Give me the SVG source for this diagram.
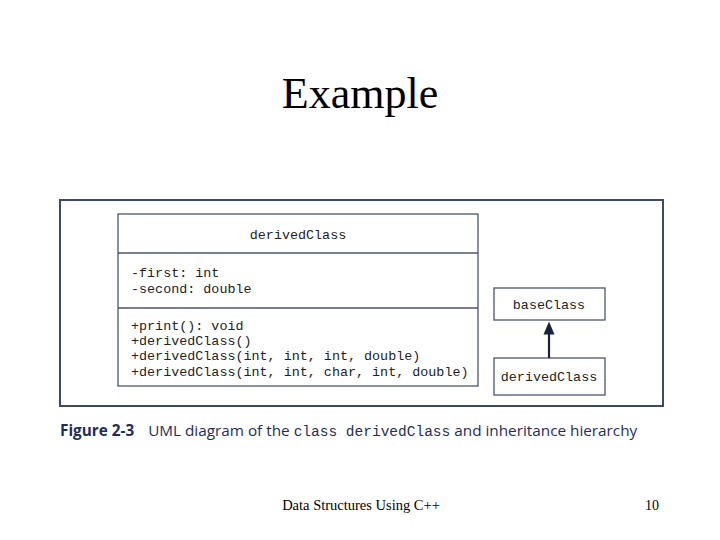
<svg xmlns="http://www.w3.org/2000/svg" width="720" height="540" viewBox="0 0 720 540">
<style>
.m{font-family:"Liberation Mono",monospace;font-size:13.4px;fill:#222}
.b{fill:#fff;stroke:#4a5570;stroke-width:1.3}
.s{font-family:"Liberation Serif",serif;fill:#000}
.c{font-family:"Open Sans","Liberation Sans",sans-serif;font-size:15.3px;fill:#1f2d5a}
</style>
<defs><marker id="ah" markerWidth="6" markerHeight="6" refX="3" refY="3" orient="auto"><path d="M0,0.5 L6,3 L0,5.5 z" fill="#1a2040"/></marker></defs>
<rect width="720" height="540" fill="#fff"/>
<text class="s" x="360" y="108" font-size="44" text-anchor="middle">Example</text>
<rect x="60" y="200" width="603" height="206" fill="#fff" stroke="#3a4a6a" stroke-width="2"/>
<g id="derivedClassMain">
<rect class="b" x="118" y="214" width="360" height="172"/>
<line x1="118" y1="253" x2="478" y2="253" stroke="#4a5570" stroke-width="1.3"/>
<line x1="118" y1="308" x2="478" y2="308" stroke="#4a5570" stroke-width="1.3"/>
<text class="m" x="298" y="239" text-anchor="middle">derivedClass</text>
<text class="m" x="131" y="277">-first: int</text>
<text class="m" x="131" y="293">-second: double</text>
<text class="m" x="131" y="330">+print(): void</text>
<text class="m" x="131" y="345">+derivedClass()</text>
<text class="m" x="131" y="360">+derivedClass(int, int, int, double)</text>
<text class="m" x="131" y="376">+derivedClass(int, int, char, int, double)</text>
</g>
<g id="baseClass">
<rect class="b" x="494" y="288" width="111" height="32"/>
<text class="m" x="549" y="309" text-anchor="middle" font-size="12">baseClass</text>
</g>
<g id="derivedClass">
<rect class="b" x="494" y="358" width="111" height="37"/>
<text class="m" x="549" y="381" text-anchor="middle">derivedClass</text>
</g>
<g id="connectors">
<line x1="549" y1="358" x2="549" y2="328" stroke="#1a2040" stroke-width="2.2" marker-end="url(#ah)"/>
</g>
<text class="c" x="60" y="436"><tspan font-weight="bold">Figure 2-3</tspan><tspan dx="14">UML diagram of the </tspan><tspan font-family="Liberation Mono,monospace" font-size="14.5">class derivedClass</tspan><tspan> and inheritance hierarchy</tspan></text>
<text class="s" x="361" y="510" font-size="14.5" text-anchor="middle">Data Structures Using C++</text>
<text class="s" x="652" y="510" font-size="14" text-anchor="middle">10</text>
</svg>
